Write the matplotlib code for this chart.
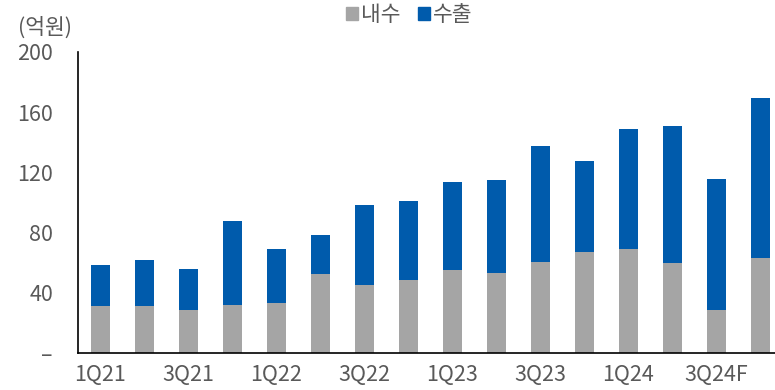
import matplotlib
matplotlib.use("Agg")
import matplotlib.pyplot as plt
from matplotlib.patches import Patch
import numpy as np

plt.rcParams['font.family'] = ['Noto Sans CJK KR', 'DejaVu Sans']

quarters = ['1Q21', '2Q21', '3Q21', '4Q21', '1Q22', '2Q22', '3Q22', '4Q22',
            '1Q23', '2Q23', '3Q23', '4Q23', '1Q24', '2Q24', '3Q24F', '4Q24F']
domestic = [31.3, 30.9, 28.5, 31.6, 33.1, 52.2, 44.9, 48.5,
            55.1, 52.9, 60.3, 66.7, 68.9, 59.6, 28.5, 63.3]
total = [58.0, 61.6, 55.8, 87.6, 69.3, 78.5, 98.0, 100.9,
         113.8, 114.9, 137.8, 127.8, 148.5, 150.7, 115.8, 169.1]
export = [t - d for t, d in zip(total, domestic)]

yticks = [0, 40, 80, 120, 160, 200]
ytick_labels = ['–', '40', '80', '120', '160', '200']

GRAY = '#A5A5A5'
BLUE = '#005BAC'
TXT = '#595959'

fig = plt.figure(figsize=(7.75, 3.9), dpi=100)
ax = fig.add_axes([78 / 775, 1 - 352.7 / 390, 1 - 78 / 775, (352.7 - 52) / 390])

x = np.arange(len(quarters))
w = 0.44
ax.bar(x, domestic, width=w, color=GRAY, zorder=2)
ax.bar(x, export, width=w, bottom=domestic, color=BLUE, zorder=2)

ax.set_ylim(0, 200)
ax.set_xlim(-0.511, 15.33)
ax.set_yticks(yticks)
ax.set_yticklabels(ytick_labels)
ax.set_xticks(x[::2])
ax.set_xticklabels(quarters[::2])
ax.tick_params(axis='y', length=0, pad=18, labelsize=15.5, labelcolor=TXT)
ax.tick_params(axis='x', length=0, pad=8, labelsize=15.5, labelcolor=TXT)

for s in ['top', 'right']:
    ax.spines[s].set_visible(False)
for s in ['left', 'bottom']:
    ax.spines[s].set_color('black')
    ax.spines[s].set_linewidth(1.2)

fig.text(18 / 775, 1 - 28 / 390, '(억원)', fontsize=15.5, color=TXT,
         ha='left', va='center')

handles = [Patch(color=GRAY, label='내수'), Patch(color=BLUE, label='수출')]
fig.legend(handles=handles, loc='center', ncol=2,
           bbox_to_anchor=(409.5 / 775, 1 - 15 / 390), frameon=False,
           fontsize=15.5, labelcolor=TXT, handlelength=0.55, handleheight=0.55,
           handletextpad=0.15, columnspacing=0.8, borderpad=0, borderaxespad=0)

fig.savefig('out.png', dpi=100)
